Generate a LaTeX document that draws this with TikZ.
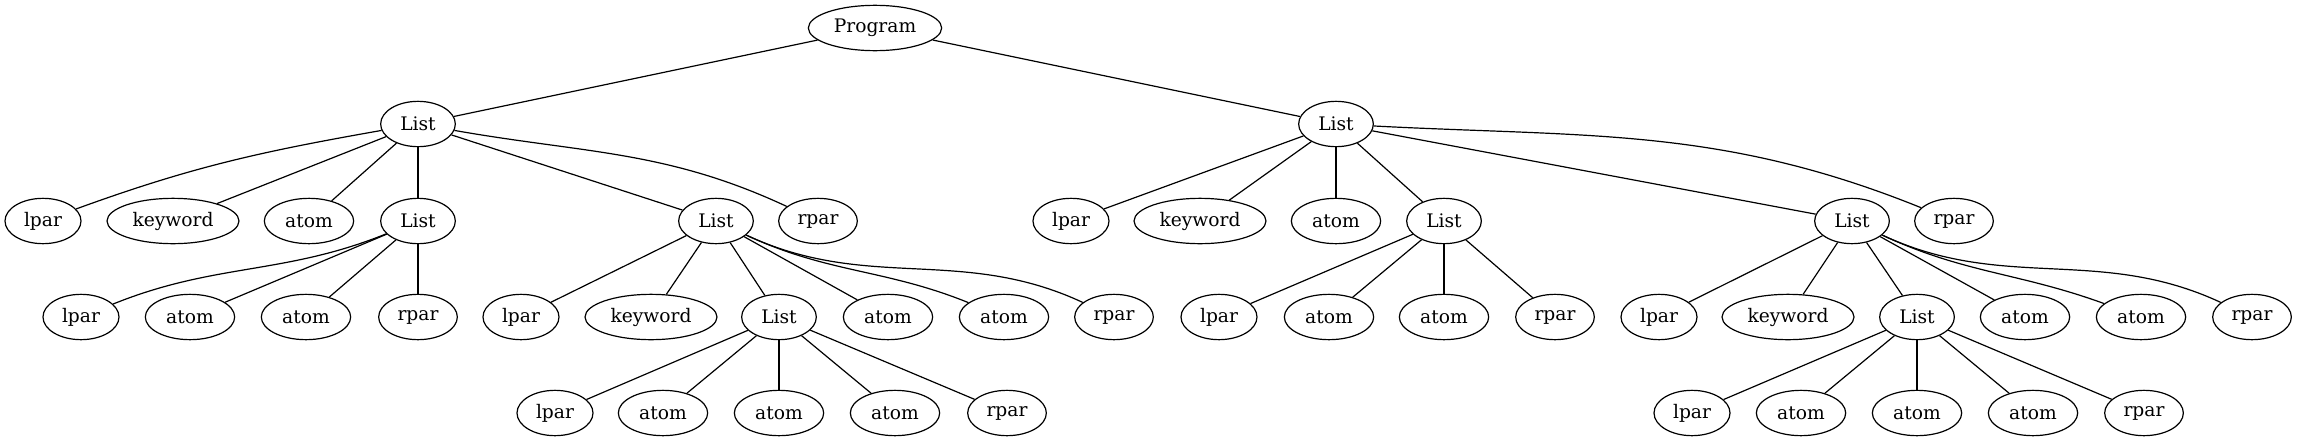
\documentclass[tikz,border=0pt]{standalone}
\usepackage{fontspec}
\setmainfont{DejaVu Serif}
\usepackage{tikz}
\usetikzlibrary{shapes.geometric}

\tikzset{
  tok/.style={shape=ellipse, draw, line width=0.9pt, inner sep=0pt,
    minimum height=34pt, font=\fontsize{14}{16}\selectfont},
  lparnode/.style={tok, minimum width=57pt},
  rparnode/.style={tok, minimum width=59pt},
  atomnode/.style={tok, minimum width=67pt},
  kwnode/.style={tok, minimum width=99pt},
  listnode/.style={tok, minimum width=56pt},
  prognode/.style={tok, minimum width=100pt}
}

\begin{document}
\begin{tikzpicture}[x=0.75pt,y=0.75pt,line width=0.9pt]
\useasboundingbox (0,0) rectangle (2298,-443);
% root and the two top lists
\node[prognode] (P) at (875,-28) {Program};
\node[listnode] (A) at (418,-124) {List};
\node[listnode] (B) at (1336,-124) {List};
% left list
\node[lparnode] (A1) at (43,-221) {lpar};
\node[kwnode] (A2) at (173,-221) {keyword};
\node[atomnode] (A3) at (309,-221) {atom};
\node[listnode] (A4) at (418,-221) {List};
\node[listnode] (A5) at (716,-221) {List};
\node[rparnode] (A6) at (818,-221) {rpar};
\node[lparnode] (A41) at (81,-317) {lpar};
\node[atomnode] (A42) at (190,-317) {atom};
\node[atomnode] (A43) at (306,-317) {atom};
\node[rparnode] (A44) at (418,-317) {rpar};
\node[lparnode] (A51) at (521,-317) {lpar};
\node[kwnode] (A52) at (651,-317) {keyword};
\node[listnode] (A53) at (779,-317) {List};
\node[atomnode] (A54) at (888,-317) {atom};
\node[atomnode] (A55) at (1004,-317) {atom};
\node[rparnode] (A56) at (1114,-317) {rpar};
\node[lparnode] (A531) at (555,-413) {lpar};
\node[atomnode] (A532) at (663,-413) {atom};
\node[atomnode] (A533) at (779,-413) {atom};
\node[atomnode] (A534) at (895,-413) {atom};
\node[rparnode] (A535) at (1007,-413) {rpar};
% right list
\node[lparnode] (B1) at (1071,-221) {lpar};
\node[kwnode] (B2) at (1200,-221) {keyword};
\node[atomnode] (B3) at (1336,-221) {atom};
\node[listnode] (B4) at (1444,-221) {List};
\node[listnode] (B5) at (1852,-221) {List};
\node[rparnode] (B6) at (1954,-221) {rpar};
\node[lparnode] (B41) at (1219,-317) {lpar};
\node[atomnode] (B42) at (1329,-317) {atom};
\node[atomnode] (B43) at (1444,-317) {atom};
\node[rparnode] (B44) at (1555,-317) {rpar};
\node[lparnode] (B51) at (1659,-317) {lpar};
\node[kwnode] (B52) at (1788,-317) {keyword};
\node[listnode] (B53) at (1917,-317) {List};
\node[atomnode] (B54) at (2025,-317) {atom};
\node[atomnode] (B55) at (2141,-317) {atom};
\node[rparnode] (B56) at (2252,-317) {rpar};
\node[lparnode] (B531) at (1692,-413) {lpar};
\node[atomnode] (B532) at (1801,-413) {atom};
\node[atomnode] (B533) at (1917,-413) {atom};
\node[atomnode] (B534) at (2033,-413) {atom};
\node[rparnode] (B535) at (2144,-413) {rpar};
% edges
\draw (P) -- (A);
\draw (P) -- (B);
\draw (A) to[out=190,in=20] (A1);
\draw (A) -- (A2);
\draw (A) -- (A3);
\draw (A) -- (A4);
\draw (A) -- (A5);
\draw (A) to[out=-10,in=155] (A6);
\draw (A4) to[out=202,in=22] (A41);
\draw (A4) -- (A42);
\draw (A4) -- (A43);
\draw (A4) -- (A44);
\draw (A5) -- (A51);
\draw (A5) -- (A52);
\draw (A5) -- (A53);
\draw (A5) -- (A54);
\draw (A5) to[out=-25,in=158] (A55);
\draw (A5) to[out=-25,in=155] (A56);
\draw (A53) -- (A531);
\draw (A53) -- (A532);
\draw (A53) -- (A533);
\draw (A53) -- (A534);
\draw (A53) -- (A535);
\draw (B) -- (B1);
\draw (B) -- (B2);
\draw (B) -- (B3);
\draw (B) -- (B4);
\draw (B) -- (B5);
\draw (B) to[out=-3,in=158] (B6);
\draw (B4) -- (B41);
\draw (B4) -- (B42);
\draw (B4) -- (B43);
\draw (B4) -- (B44);
\draw (B5) -- (B51);
\draw (B5) -- (B52);
\draw (B5) -- (B53);
\draw (B5) -- (B54);
\draw (B5) to[out=-25,in=160] (B55);
\draw (B5) to[out=-25,in=155] (B56);
\draw (B53) -- (B531);
\draw (B53) -- (B532);
\draw (B53) -- (B533);
\draw (B53) -- (B534);
\draw (B53) -- (B535);
\end{tikzpicture}
\end{document}
